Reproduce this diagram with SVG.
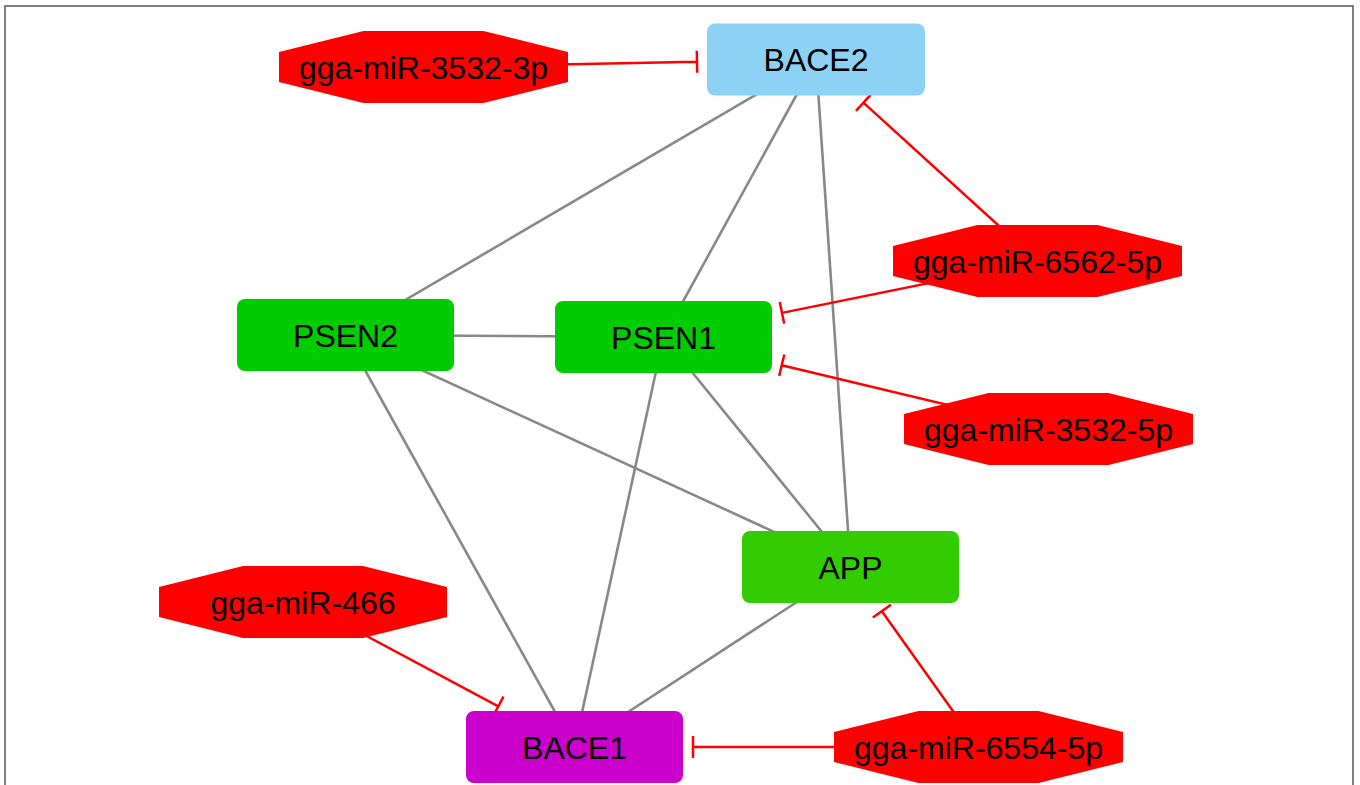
<svg xmlns="http://www.w3.org/2000/svg" width="1360" height="785" viewBox="0 0 1360 785">
<style>
.frame{fill:none;stroke:#555555;stroke-width:1.5}
.ppi{stroke:#888888;stroke-width:2.6;fill:none}
.inh{stroke:#FF0000;stroke-width:2.5;fill:none}
.lbl{font-family:"Liberation Sans",Arial,sans-serif;font-size:32px;fill:#000000;text-anchor:middle}
.mir{fill:#FF0000}
</style>
<rect class="frame" x="5" y="6" width="1348" height="820"/>
<g id="connectors">
<line class="ppi" x1="345.5" y1="335" x2="816" y2="59.5"/>
<line class="ppi" x1="663.5" y1="337" x2="816" y2="59.5"/>
<line class="ppi" x1="850.5" y1="567" x2="816" y2="59.5"/>
<line class="ppi" x1="345.5" y1="335" x2="663.5" y2="337"/>
<line class="ppi" x1="345.5" y1="335" x2="850.5" y2="567"/>
<line class="ppi" x1="663.5" y1="337" x2="850.5" y2="567"/>
<line class="ppi" x1="345.5" y1="335" x2="574.5" y2="747"/>
<line class="ppi" x1="663.5" y1="337" x2="574.5" y2="747"/>
<line class="ppi" x1="850.5" y1="567" x2="574.5" y2="747"/>
<path class="inh" d="M423.5,67 L697,61.8 M696.8,50.8 L697.2,72.8"/>
<path class="inh" d="M1037.5,261 L863.4,102.7 M870.8,94.6 L856,110.8"/>
<path class="inh" d="M1037.5,261 L782,312.9 M779.8,302.1 L784.2,323.7"/>
<path class="inh" d="M1048.5,429 L781.7,365.2 M784.3,354.5 L779.2,375.9"/>
<path class="inh" d="M303,602 L498.3,706.3 M503.5,696.6 L493.1,716"/>
<path class="inh" d="M978.5,747 L881.9,611.2 M890.9,604.8 L872.9,617.6"/>
<path class="inh" d="M978.5,747 L693,747 M693,736 L693,758"/>
</g>
<g id="BACE2"><rect x="707" y="23.5" width="218" height="72" rx="8" fill="#8DD1F4"/><text class="lbl" x="816" y="71">BACE2</text></g>
<g id="PSEN2"><rect x="237" y="299" width="217" height="72" rx="8" fill="#00CC00"/><text class="lbl" x="345.5" y="346.5">PSEN2</text></g>
<g id="PSEN1"><rect x="555" y="301" width="217" height="72" rx="8" fill="#00CC00"/><text class="lbl" x="663.5" y="348.5">PSEN1</text></g>
<g id="APP"><rect x="742" y="531" width="217" height="72" rx="8" fill="#33CC00"/><text class="lbl" x="850.5" y="578.5">APP</text></g>
<g id="BACE1"><rect x="466" y="711" width="217" height="72" rx="8" fill="#CC00CC"/><text class="lbl" x="574.5" y="758.5">BACE1</text></g>
<g id="gga-miR-3532-3p"><polygon class="mir" points="363.5,31 483.5,31 568,52 568,82 483.5,103 363.5,103 279,82 279,52"/><text class="lbl" x="423.5" y="78.5">gga-miR-3532-3p</text></g>
<g id="gga-miR-6562-5p"><polygon class="mir" points="977.5,225 1097.5,225 1182,246 1182,276 1097.5,297 977.5,297 893,276 893,246"/><text class="lbl" x="1037.5" y="272.5">gga-miR-6562-5p</text></g>
<g id="gga-miR-3532-5p"><polygon class="mir" points="988.5,393 1108.5,393 1193,414 1193,444 1108.5,465 988.5,465 904,444 904,414"/><text class="lbl" x="1048.5" y="440.5">gga-miR-3532-5p</text></g>
<g id="gga-miR-466"><polygon class="mir" points="243,566 363,566 447,587 447,617 363,638 243,638 159,617 159,587"/><text class="lbl" x="303" y="613.5">gga-miR-466</text></g>
<g id="gga-miR-6554-5p"><polygon class="mir" points="918.5,711 1038.5,711 1123,732 1123,762 1038.5,783 918.5,783 834,762 834,732"/><text class="lbl" x="978.5" y="758.5">gga-miR-6554-5p</text></g>
</svg>
